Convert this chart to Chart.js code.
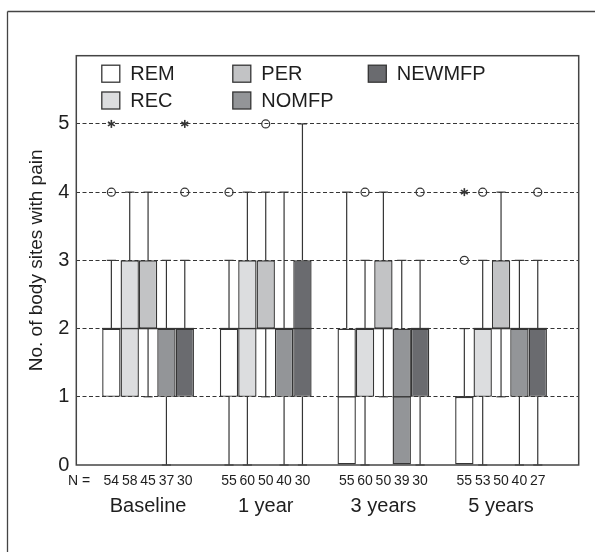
<!DOCTYPE html>
<html>
<head>
<meta charset="utf-8">
<script src="https://cdn.jsdelivr.net/npm/chart.js@4.4.1/dist/chart.umd.min.js"></script>
<style>
  html, body { margin: 0; padding: 0; background: #fff; }
  #wrap { width: 595px; height: 552px; }
</style>
</head>
<body>
<div id="wrap"><canvas id="painChart" width="595" height="552"></canvas></div>
<script>
// Number of body sites with pain, per follow-up group
const groups = ['Baseline', '1 year', '3 years', '5 years'];
const seriesNames = ['REM', 'REC', 'PER', 'NOMFP', 'NEWMFP'];
const seriesColors = ['#ffffff', '#dcdddf', '#c2c3c5', '#939598', '#6a6b6f'];

// [min, q1, median, q3, max] for each group
const remStats = [[1, 1, 2, 2, 3], [0, 1, 2, 2, 3], [0, 0, 1, 2, 4], [0, 0, 1, 1, 2]];
const recStats = [[1, 1, 2, 3, 4], [0, 1, 2, 3, 4], [0, 1, 2, 2, 3], [0, 1, 2, 2, 3]];
const perStats = [[1, 2, 2, 3, 4], [1, 2, 2, 3, 4], [1, 2, 2, 3, 4], [1, 2, 2, 3, 4]];
const nomfpStats = [[0, 1, 2, 2, 3], [0, 1, 2, 2, 4], [0, 0, 1, 2, 3], [0, 1, 2, 2, 3]];
const newmfpStats = [[1, 1, 2, 2, 3], [0, 1, 2, 3, 5], [0, 1, 2, 2, 3], [0, 1, 2, 2, 3]];

// outliers (o) and extreme values (*) per group
const remOutliers = [[4], [4], [], [3]];
const remExtremes = [[5], [], [], [4]];
const recOutliers = [[], [], [4], [4]];
const perOutliers = [[], [5], [], []];
const newmfpOutliers = [[4], [], [4], [4]];
const newmfpExtremes = [[5], [], [], []];
const none = [[], [], [], []];

// sample sizes
const remN = [54, 55, 55, 55];
const recN = [58, 60, 60, 53];
const perN = [45, 50, 50, 50];
const nomfpN = [37, 40, 39, 40];
const newmfpN = [30, 30, 30, 27];

const statsList = [remStats, recStats, perStats, nomfpStats, newmfpStats];
const outlierList = [remOutliers, recOutliers, perOutliers, none, newmfpOutliers];
const extremeList = [remExtremes, none, none, none, newmfpExtremes];
const countList = [remN, recN, perN, nomfpN, newmfpN];

const FONT = "'Liberation Sans', Arial, sans-serif";
const INK = '#353535';
const TEXT = '#1e1e1e';

function seg(ctx, x1, y1, x2, y2) {
    ctx.beginPath();
    ctx.moveTo(x1, y1);
    ctx.lineTo(x2, y2);
    ctx.stroke();
}

// whiskers, medians, outliers, N row, legend and frames
const boxExtras = {
    id: 'boxExtras',
    beforeDraw(chart) {
        const ctx = chart.ctx;
        ctx.save();
        ctx.strokeStyle = '#444';
        ctx.lineWidth = 1.3;
        seg(ctx, 7.5, 11.5, chart.width, 11.5);
        seg(ctx, 7.5, 11.5, 7.5, chart.height);
        ctx.restore();
    },
    afterDatasetsDraw(chart) {
        const { ctx, chartArea, scales } = chart;
        const y = scales.y;
        ctx.save();
        ctx.strokeStyle = INK;
        ctx.lineWidth = 1.2;
        chart.data.datasets.forEach((ds, s) => {
            const meta = chart.getDatasetMeta(s);
            meta.data.forEach((bar, g) => {
                const { x, width } = bar.getProps(['x', 'width'], true);
                const [mn, q1, med, q3, mx] = ds.stats[g];
                const cap = width * 0.25;
                if (mx > q3) {
                    seg(ctx, x, y.getPixelForValue(q3), x, y.getPixelForValue(mx));
                    seg(ctx, x - cap, y.getPixelForValue(mx), x + cap, y.getPixelForValue(mx));
                }
                if (mn < q1) {
                    seg(ctx, x, y.getPixelForValue(q1), x, y.getPixelForValue(mn));
                    seg(ctx, x - cap, y.getPixelForValue(mn), x + cap, y.getPixelForValue(mn));
                }
                ctx.lineWidth = 1.4;
                seg(ctx, x - width / 2, y.getPixelForValue(med), x + width / 2, y.getPixelForValue(med));
                ctx.lineWidth = 1.2;

                ds.outliers[g].forEach(v => {
                    ctx.beginPath();
                    ctx.arc(x, y.getPixelForValue(v), 4, 0, Math.PI * 2);
                    ctx.stroke();
                });
                ds.extremes[g].forEach(v => {
                    const py = y.getPixelForValue(v);
                    ctx.lineWidth = 1.6;
                    for (let a = 0; a < 3; a++) {
                        const ang = Math.PI / 2 + a * Math.PI / 3;
                        const dx = Math.cos(ang) * 4, dy = Math.sin(ang) * 4;
                        seg(ctx, x - dx, py - dy, x + dx, py + dy);
                    }
                    ctx.lineWidth = 1.2;
                });

                ctx.fillStyle = TEXT;
                ctx.font = '14px ' + FONT;
                ctx.textAlign = 'center';
                ctx.textBaseline = 'middle';
                ctx.fillText(String(ds.counts[g]), x, chartArea.bottom + 16);
            });
        });
        ctx.textAlign = 'left';
        ctx.fillText('N = ', 68, chartArea.bottom + 16);
        ctx.restore();
    },
    afterDraw(chart) {
        const { ctx, chartArea } = chart;
        ctx.save();
        ctx.strokeStyle = '#444';
        ctx.lineWidth = 1.5;
        ctx.strokeRect(chartArea.left, chartArea.top, chartArea.right - chartArea.left, chartArea.bottom - chartArea.top);

        // legend: two rows, filled column by column
        const colX = [25.5, 156.5, 292];
        const rowY = [9.5, 36.3];
        ctx.font = '20px ' + FONT;
        ctx.textBaseline = 'middle';
        ctx.textAlign = 'left';
        seriesNames.forEach((name, i) => {
            const lx = chartArea.left + colX[Math.floor(i / 2)];
            const ly = chartArea.top + rowY[i % 2];
            ctx.fillStyle = seriesColors[i];
            ctx.fillRect(lx, ly, 18, 17);
            ctx.strokeStyle = INK;
            ctx.lineWidth = 1.3;
            ctx.strokeRect(lx, ly, 18, 17);
            ctx.fillStyle = TEXT;
            ctx.fillText(name, lx + 28.5, ly + 9);
        });
        ctx.restore();
    }
};

const datasets = seriesNames.map((name, s) => ({
    label: name,
    data: statsList[s].map((st, g) => ({ x: g + 1, y: [st[1], st[3]] })),
    backgroundColor: seriesColors[s],
    borderColor: INK,
    borderWidth: 1.4,
    borderSkipped: false,
    categoryPercentage: 0.78,
    barPercentage: 1.0,
    stats: statsList[s],
    outliers: outlierList[s],
    extremes: extremeList[s],
    counts: countList[s]
}));

new Chart(document.getElementById('painChart'), {
    type: 'bar',
    data: { datasets },
    plugins: [boxExtras],
    options: {
        responsive: false,
        animation: false,
        devicePixelRatio: 1,
        layout: { padding: { left: 0, top: 55.7, right: 16.3, bottom: 0 } },
        plugins: { legend: { display: false }, tooltip: { enabled: false } },
        scales: {
            x: {
                type: 'linear',
                min: 0.39,
                max: 4.66,
                offset: false,
                grid: { display: false },
                border: { display: false },
                afterFit: scale => { scale.height = 87; },
                ticks: {
                    stepSize: 1,
                    includeBounds: false,
                    autoSkip: false,
                    maxRotation: 0,
                    padding: 21,
                    color: TEXT,
                    font: { family: FONT, size: 20 },
                    callback: v => Number.isInteger(v) ? groups[v - 1] : ''
                }
            },
            y: {
                min: 0,
                max: 6,
                afterFit: scale => { scale.width = 76.3; },
                afterBuildTicks: scale => { scale.ticks = scale.ticks.filter(t => t.value <= 5); },
                grid: {
                    drawTicks: false,
                    color: ctx => (ctx.tick && ctx.tick.value > 0) ? '#353535' : 'rgba(0,0,0,0)',
                    lineWidth: 1
                },
                border: { display: false, dash: [4, 2.5] },
                ticks: {
                    stepSize: 1,
                    padding: 7,
                    color: TEXT,
                    font: { family: FONT, size: 20 }
                },
                title: {
                    display: true,
                    text: 'No. of body sites with pain',
                    color: TEXT,
                    font: { family: FONT, size: 19 },
                    padding: { top: 25, bottom: 0 }
                }
            }
        }
    }
});
</script>
</body>
</html>
